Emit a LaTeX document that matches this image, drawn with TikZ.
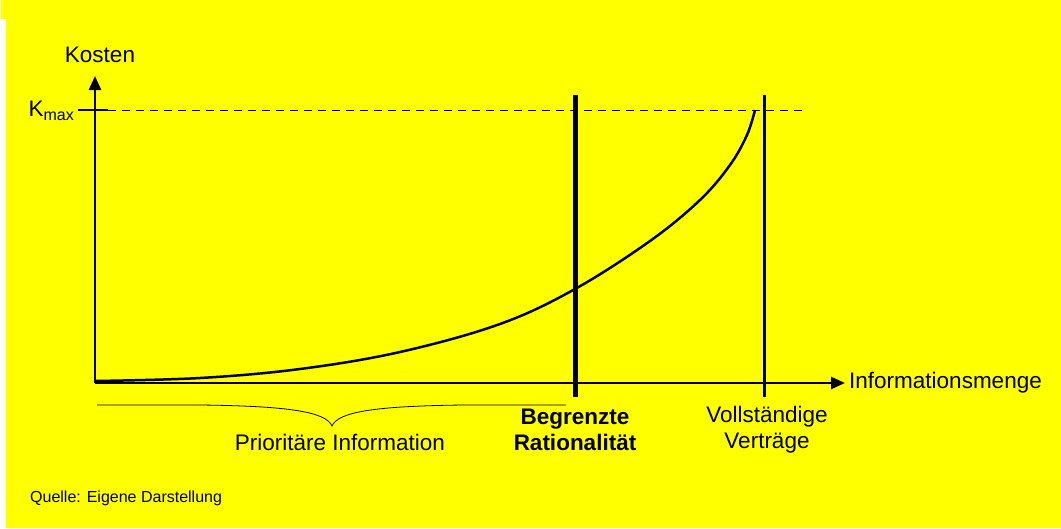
\documentclass[tikz,border=0pt]{standalone}
\usepackage{fontspec}
\setmainfont{Liberation Sans}
\usetikzlibrary{arrows.meta}
\definecolor{bgyellow}{RGB}{255,255,0}

\begin{document}
\begin{tikzpicture}[x=1pt, y=-1pt]
        \tikzstyle{every node}=[inner sep=0pt, font=\fontsize{22.5}{26}\selectfont]
        \tikzstyle{axisline}=[line width=2.5pt, -{Triangle[length=14pt,width=12pt]}]
        \tikzstyle{limitline}=[line width=3pt]
        \tikzstyle{caption}=[align=center]
        \useasboundingbox (0,0) rectangle (1061,528);
        \fill[white] (0,0) rectangle (1061,528);
        \fill[bgyellow] (1,0) rectangle (1061,19);
        \fill[bgyellow] (6,0) rectangle (1061,528);
        % axes
        \coordinate (O) at (95,383);
        \coordinate (ytop) at (95,76);
        \coordinate (xend) at (845,383);
        \draw[axisline] (O) -- (ytop);
        \draw[axisline] (O) -- (xend);
        \node (kosten) at (100,55) {Kosten};
        \node[anchor=west] (infomenge) at (849,383) {Informationsmenge};
        % K max
        \coordinate (kmaxl) at (78,110);
        \coordinate (kmaxr) at (108,110);
        \coordinate (dashend) at (806,110);
        \draw[line width=2.5pt] (kmaxl) -- (kmaxr);
        \draw[dash pattern=on 8pt off 6pt, line width=0.8pt] (kmaxr) -- (dashend);
        \node[anchor=east] (kmax) at (74,111) {K\raisebox{-0.35ex}{\fontsize{16}{16}\selectfont max}};
        % limits
        \coordinate (brtop) at (575,95);
        \coordinate (brbot) at (575,397);
        \coordinate (vvtop) at (764,95);
        \coordinate (vvbot) at (764,397);
        \draw[limitline, line width=5pt] (brtop) -- (brbot);
        \draw[limitline] (vvtop) -- (vvbot);
        % cost curve
        \draw[line width=2.5pt] plot[smooth, tension=0.6] coordinates {(95,381) (200,378) (300,369) (400,352) (500,324) (575,289) (650,241) (700,200) (730,165) (747,135) (755,110)};
        % brace
        \draw[line width=0.8pt] (97,405) -- (200,405) .. controls (290,406) and (326,412) .. (332,426) .. controls (338,412) and (374,406) .. (464,405) -- (566,405);
        \node (prior) at (340,442) {Prioritäre Information};
        \node[caption, font=\fontsize{22.5}{26}\selectfont\bfseries] (begrenzt) at (575,430) {Begrenzte\\Rationalität};
        \node[caption] (vollst) at (767,430) {Vollständige\\Verträge};
        \node[anchor=west, font=\fontsize{16}{19}\selectfont] (quelle) at (30,498) {Quelle: Eigene Darstellung};
\end{tikzpicture}
\end{document}
